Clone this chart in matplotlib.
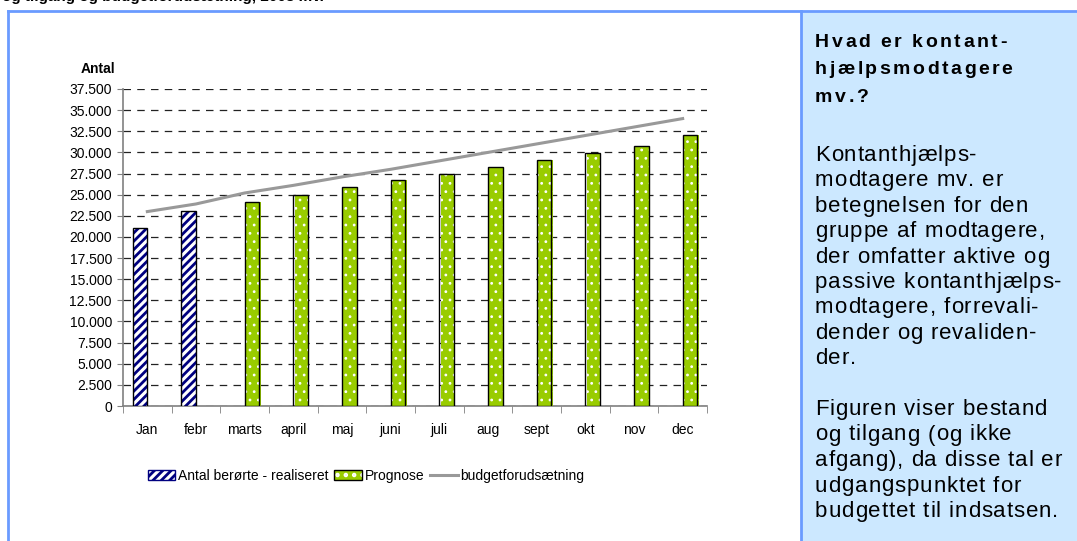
import numpy as np
import matplotlib as mpl
mpl.use('Agg')
import matplotlib.pyplot as plt
from matplotlib.patches import Patch, Rectangle
from matplotlib.lines import Line2D
from matplotlib.legend_handler import HandlerTuple
from matplotlib.ticker import FuncFormatter, FixedLocator
from matplotlib.font_manager import findfont, FontProperties
from matplotlib.ft2font import FT2Font

plt.rcParams['font.family'] = ['Liberation Sans', 'DejaVu Sans']

# data
months = ['Jan', 'febr', 'marts', 'april', 'maj', 'juni', 'juli', 'aug', 'sept', 'okt', 'nov', 'dec']
realiseret = [21000, 23100, None, None, None, None, None, None, None, None, None, None]
prognose = [None, None, 24100, 25000, 25900, 26700, 27500, 28300, 29100, 29900, 30800, 32000]
budget = [23000, 23900, 25200, 26100, 27100, 28000, 29000, 30000, 31000, 32000, 33000, 34000]

title_lines = ['Hvad er kontant-', 'hjælpsmodtagere', 'mv.?']
body_lines = ['Kontanthjælps-', 'modtagere mv. er', 'betegnelsen for den',
              'gruppe af modtagere,', 'der omfatter aktive og',
              'passive kontanthjælps-', 'modtagere, forrevali-',
              'dender og revaliden-', 'der.', '',
              'Figuren viser bestand', 'og tilgang (og ikke',
              'afgang), da disse tal er', 'udgangspunktet for',
              'budgettet til indsatsen.']

W, H = 1077, 541
fig = plt.figure(figsize=(W / 100, H / 100), dpi=100)

def fx(x):
    return x / W

def fy(y):
    return 1 - y / H

def spaced_text(x0, y0, s, size, weight='normal', track=1.0):
    # draw text char by char with extra letter spacing (pixels)
    fp = FontProperties(family='Liberation Sans', weight=weight, size=size)
    font = FT2Font(findfont(fp))
    font.set_size(size, 100)
    x = x0
    for c in s:
        if c != ' ':
            fig.text(fx(x), fy(y0), c, fontproperties=fp, va='baseline', ha='left')
        glyph = font.load_char(ord(c))
        x += glyph.linearHoriAdvance / 65536 + track

blue = '#6A9BFF'
# right panel background and frame
fig.patches.append(Rectangle((fx(801), 0), 1 - fx(801), fy(11), transform=fig.transFigure,
                             facecolor='#CCE8FF', edgecolor='none', zorder=0))
fig.add_artist(Line2D([fx(8), 1], [fy(11), fy(11)], color=blue, lw=2))
fig.add_artist(Line2D([fx(8), fx(8)], [0, fy(11)], color=blue, lw=2))
fig.add_artist(Line2D([fx(801), fx(801)], [0, fy(11)], color=blue, lw=2))

# heading above the frame, cut off by the top edge as in the original
fig.text(fx(2), fy(0.5), 'og tilgang og budgetforudsætning, 2008 mv.', fontsize=11,
         fontweight='bold', va='baseline', ha='left')

ax = fig.add_axes([fx(123), fy(406), (707 - 123) / W, (406 - 89) / H])
x = np.arange(len(months))
w = 0.3

real = np.array([np.nan if v is None else v for v in realiseret], dtype=float)
prog = np.array([np.nan if v is None else v for v in prognose], dtype=float)

plt.rcParams['hatch.linewidth'] = 2.0
b1 = ax.bar(x - w / 2, real, w, color='white', edgecolor='#000080', hatch='////', lw=0, zorder=3)
ax.bar(x - w / 2, real, w, fill=False, edgecolor='black', lw=1, zorder=4)
b2 = ax.bar(x + w / 2 + 0.03, prog, w, color='#99CC00', edgecolor='white', hatch='..', lw=0, zorder=3)
ax.bar(x + w / 2, prog, w, fill=False, edgecolor='black', lw=1, zorder=4)
for p in list(b2):
    try:
        p.set_hatch_linewidth(0.8)
    except AttributeError:
        pass

ax.plot(x, budget, color='#999999', lw=2.2, zorder=5)

ax.set_xlim(-0.5, len(months) - 0.5)
ax.set_ylim(0, 37500)
ax.set_yticks(np.arange(0, 37501, 2500))
ax.yaxis.set_major_formatter(FuncFormatter(lambda v, p: f'{int(v):,}'.replace(',', '.')))
ax.grid(axis='y', color='#222222', lw=0.9, linestyle=(0, (6, 5)), zorder=1)
ax.set_axisbelow(True)

ax.set_xticks(x)
ax.set_xticklabels(months)
ax.xaxis.set_minor_locator(FixedLocator(np.arange(-0.5, len(months), 1)))
ax.tick_params(axis='x', which='major', length=0, pad=12, labelsize=10)
ax.tick_params(axis='x', which='minor', length=5, color='#808080', direction='out')
ax.tick_params(axis='y', length=4, color='#808080', pad=4, labelsize=10)

for s in ['top', 'right']:
    ax.spines[s].set_visible(False)
for s in ['left', 'bottom']:
    ax.spines[s].set_color('#808080')
    ax.spines[s].set_linewidth(1.2)

fig.text(fx(98), fy(73), 'Antal', fontsize=10, fontweight='bold', ha='center', va='baseline')

# legend
h1 = Patch(facecolor='white', edgecolor='#000080', hatch='////', lw=1)
h2a = Patch(facecolor='#99CC00', edgecolor='white', hatch='..', lw=0)
h2b = Patch(fill=False, edgecolor='black', lw=1)
h3 = Line2D([], [], color='#999999', lw=2.2)
fig.legend([h1, (h2a, h2b), h3], ['Antal berørte - realiseret', 'Prognose', 'budgetforudsætning'],
           loc='center', bbox_to_anchor=(fx(366), fy(476)), ncol=3, frameon=False,
           fontsize=10, handlelength=2.0, handleheight=0.7, handletextpad=0.2,
           columnspacing=0.4, handler_map={tuple: HandlerTuple(ndivide=1, pad=0)})

# side panel text
for i, t in enumerate(title_lines):
    spaced_text(815, 47 + i * 27.5, t, 14, weight='bold', track=2.5)
for i, t in enumerate(body_lines):
    yy = 161 + i * 25.4
    if i >= 10:
        yy = 415 + (i - 10) * 25.5
    spaced_text(815, yy, t, 16, track=0.9)

plt.savefig('out.png', dpi=100)
